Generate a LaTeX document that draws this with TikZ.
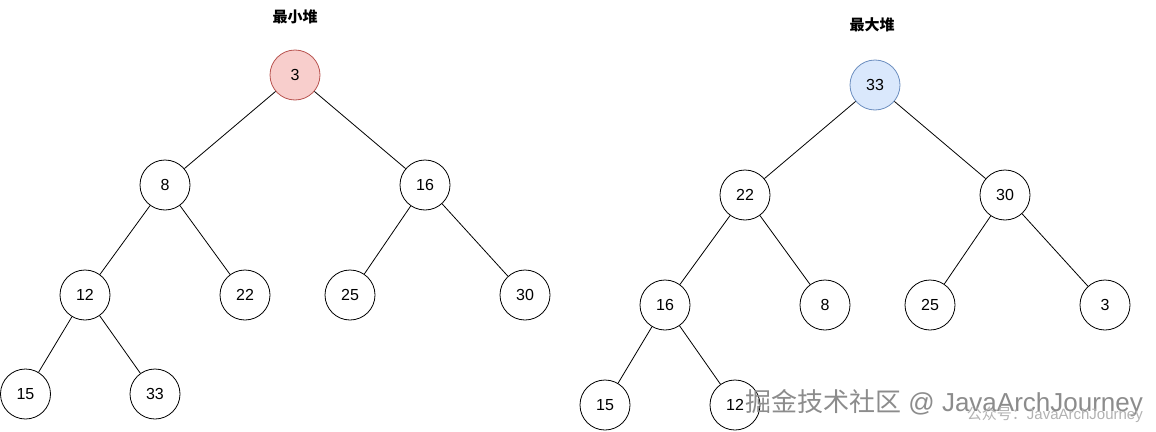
\documentclass[tikz,border=0pt]{standalone}
\usepackage{fontspec}
\setmainfont{Liberation Sans}
\newfontfamily\cjk{Noto Sans CJK SC}
\begin{document}
\begin{tikzpicture}[x=1pt,y=-1pt,
  hn/.style={circle,draw=black,line width=0.8pt,minimum size=50pt,inner sep=0pt,font=\fontsize{16}{18}\selectfont,fill=white},
  edge/.style={draw=black,line width=0.8pt},
  ttl/.style={font=\cjk\bfseries\fontsize{15}{17}\selectfont}]
\useasboundingbox (0,0) rectangle (1156,431);
% left: min heap
\node[ttl] (t1) at (295,17) {最小堆};
\node[hn,fill={rgb,255:red,248;green,206;blue,204},draw={rgb,255:red,184;green,84;blue,80}] (a3) at (295,75) {3};
\node[hn] (a8) at (165,185) {8};
\node[hn] (a16) at (425,185) {16};
\node[hn] (a12) at (85,295) {12};
\node[hn] (a22) at (245,295) {22};
\node[hn] (a25) at (350,295) {25};
\node[hn] (a30) at (525,295) {30};
\node[hn] (a15) at (25.5,394) {15};
\node[hn] (a33) at (155,394) {33};
\draw[edge] (a3) -- (a8);
\draw[edge] (a3) -- (a16);
\draw[edge] (a8) -- (a12);
\draw[edge] (a8) -- (a22);
\draw[edge] (a16) -- (a25);
\draw[edge] (a16) -- (a30);
\draw[edge] (a12) -- (a15);
\draw[edge] (a12) -- (a33);
% right: max heap
\node[ttl] (t2) at (872,25) {最大堆};
\node[hn,fill={rgb,255:red,218;green,232;blue,252},draw={rgb,255:red,108;green,142;blue,191}] (b33) at (875,85) {33};
\node[hn] (b22) at (745,195) {22};
\node[hn] (b30) at (1005,195) {30};
\node[hn] (b16) at (665,305) {16};
\node[hn] (b8) at (825,305) {8};
\node[hn] (b25) at (930,305) {25};
\node[hn] (b3) at (1105,305) {3};
\node[hn] (b15) at (605,405) {15};
\node[hn] (b12) at (735,405) {12};
\draw[edge] (b33) -- (b22);
\draw[edge] (b33) -- (b30);
\draw[edge] (b22) -- (b16);
\draw[edge] (b22) -- (b8);
\draw[edge] (b30) -- (b25);
\draw[edge] (b30) -- (b3);
\draw[edge] (b16) -- (b15);
\draw[edge] (b16) -- (b12);
% watermark
\node[anchor=west,text=black!45,font=\fontsize{26}{28}\selectfont,inner sep=0pt] (wm1) at (745,403) {{\cjk 掘金技术社区} @ JavaArchJourney};
\node[anchor=east,text=black!30,font=\fontsize{15}{17}\selectfont,inner sep=0pt] (wm2) at (1143,415) {{\cjk 公众号：}JavaArchJourney};
\end{tikzpicture}
\end{document}
